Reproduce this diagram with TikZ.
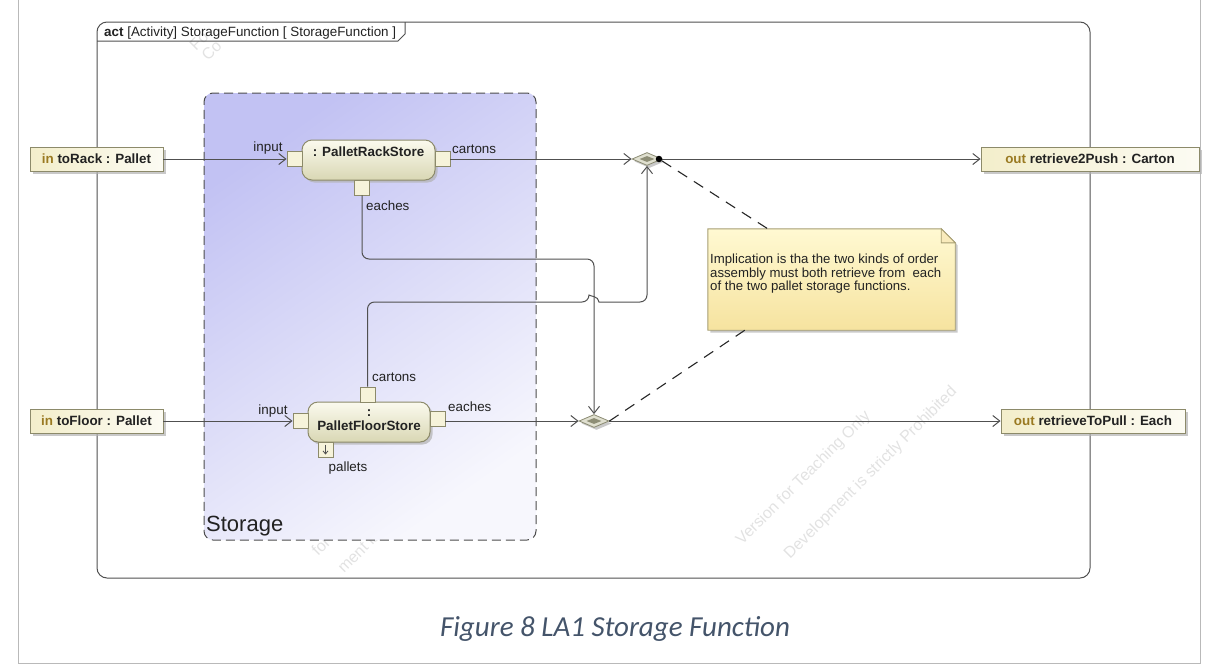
\documentclass[tikz,border=0pt]{standalone}
\usepackage{fontspec}
\setmainfont{Liberation Sans}
\newfontfamily\capfont{Carlito}
\usetikzlibrary{arrows.meta,shapes.geometric,shadows,calc}

\definecolor{linec}{HTML}{505050}
\definecolor{pinborder}{HTML}{8C8A6A}
\definecolor{keyw}{HTML}{9A7A22}
\definecolor{paramL}{HTML}{F3EECB}
\definecolor{paramR}{HTML}{FCFBF3}
\definecolor{actTop}{HTML}{FBFAEE}
\definecolor{actBot}{HTML}{D9D7B4}
\definecolor{pinFill}{HTML}{F6F3DA}
\definecolor{lav}{HTML}{C2C2F3}
\definecolor{lavLight}{HTML}{F7F7FD}
\definecolor{noteTop}{HTML}{FFF9D2}
\definecolor{noteBot}{HTML}{F6E39F}
\definecolor{noteBorder}{HTML}{A69E72}
\definecolor{dmBorder}{HTML}{8A8A72}
\definecolor{dmOut}{HTML}{E0E0D0}
\definecolor{dmIn}{HTML}{8E8E76}
\definecolor{capc}{HTML}{44546A}
\definecolor{wmark}{HTML}{E2E2E2}
\definecolor{txt}{HTML}{222222}

\tikzset{
  wire/.style={draw=linec, line width=1pt},
  flowline/.style={wire, -{Straight Barb[length=7pt,width=11pt,line width=1pt]}},
  notelink/.style={draw=black!85, line width=1.1pt, dash pattern=on 11pt off 8pt},
  castshadow/.style={drop shadow={shadow xshift=2.5pt, shadow yshift=-2.5pt, fill=black!30, opacity=0.7}},
  param/.style={castshadow, draw=pinborder, line width=0.9pt, left color=paramL, right color=paramR,
    minimum height=24pt, inner sep=0pt, text=txt, font=\fontsize{13.4}{15}\selectfont\bfseries},
  actionbox/.style={castshadow, draw=pinborder, line width=1pt, rounded corners=10pt,
    top color=actTop, bottom color=actBot, inner sep=0pt},
  pinbox/.style={draw=pinborder, line width=0.9pt, fill=pinFill, minimum size=15pt, inner sep=0pt},
  mergenode/.style={diamond, castshadow, draw=dmBorder, line width=0.8pt, fill=dmOut,
    minimum width=30pt, minimum height=13pt, inner sep=0pt},
  mergecore/.style={diamond, fill=dmIn, minimum width=15pt, minimum height=6pt, inner sep=0pt},
  lbl/.style={inner sep=0pt, text=txt, font=\fontsize{13.4}{15}\selectfont},
  title/.style={inner sep=0pt, text=txt, align=center, font=\fontsize{13.4}{14}\selectfont\bfseries},
  wm/.style={text=wmark, rotate=45, anchor=base west, inner sep=0pt, font=\fontsize{16}{18}\selectfont},
  storagebox/.style={draw=black!70, line width=1pt, dash pattern=on 9pt off 5pt, rounded corners=9pt,
    top color=lav, bottom color=lavLight, shading angle=35, inner sep=0pt},
}

\begin{document}
\begin{tikzpicture}[x=1pt,y=-1pt]
\useasboundingbox (0,0) rectangle (1218,665);

% page border around the figure
\draw[gray!55, line width=1pt] (18,0) -- (18,663) -- (1200,663) -- (1200,0);

% tool watermark, under the diagram content
\node[wm] (wmA1) at (742,546) {Version for Teaching Only};
\node[wm] (wmA2) at (790,560) {Development is strictly Prohibited};
\node[wm] (wmB1) at (318,557) {for Teaching Only};
\node[wm] (wmB2) at (344,574) {ment is strictly Prohibited};
\node[wm] (wmC1) at (196,52) {Fo};
\node[wm] (wmC2) at (208,62) {Co};

% activity frame and its header tab
\draw[linec, line width=1pt, rounded corners=10pt] (97,22) rectangle (1090,578);
\draw[linec, line width=1pt] (97,41) -- (398,41) -- (405,34) -- (405,22);
\node[lbl, anchor=base west] (hdr) at (104,36.5) {\textbf{act} [Activity] StorageFunction [ StorageFunction ]};

% Storage partition
\node[storagebox, minimum width=332pt, minimum height=447pt] (storage) at (370,316.5) {};
\node[inner sep=0pt, text=txt, anchor=base west, font=\fontsize{22}{24}\selectfont] (storageLbl) at (206,531) {Storage};

% activity parameter nodes
\node[param, minimum width=133pt] (toRack) at (96.5,159) {{\color{keyw}in} toRack : Pallet};
\node[param, minimum width=133pt] (toFloor) at (96.5,421) {{\color{keyw}in} toFloor : Pallet};
\node[param, minimum width=218pt] (r2p) at (1090,159) {{\color{keyw}out} retrieve2Push : Carton};
\node[param, minimum width=184pt] (rtp) at (1093,421) {{\color{keyw}out} retrieveToPull : Each};

% PalletRackStore action with its pins
\node[actionbox, minimum width=133pt, minimum height=40pt] (prs) at (368.5,160) {};
\node[title] (prsName) at (368.5,152) {: PalletRackStore};
\node[pinbox] (prsIn) at (294.5,159) {};
\node[pinbox] (prsCart) at (442.5,159) {};
\node[pinbox] (prsEach) at (362,187.5) {};
\node[lbl] (lPrsIn) at (268,148) {input};
\node[lbl, anchor=west] (lPrsCart) at (452,149) {cartons};
\node[lbl, anchor=west] (lPrsEach) at (366,206) {eaches};

% PalletFloorStore action with its pins
\node[actionbox, minimum width=122pt, minimum height=40pt] (pfs) at (369,422) {};
\node[title] (pfsName) at (369,420) {:\\PalletFloorStore};
\node[pinbox] (pfsIn) at (300.5,421) {};
\node[pinbox] (pfsCart) at (367.5,394.5) {};
\node[pinbox] (pfsEach) at (437.5,419) {};
\node[pinbox] (pfsPal) at (325.5,449.5) {};
\draw[wire, line width=0.8pt, -{Straight Barb[length=3pt,width=5pt,line width=0.8pt]}]
  ($(pfsPal.center)+(0,-5)$) -- ($(pfsPal.center)+(0,5)$);
\node[lbl] (lPfsIn) at (273,411) {input};
\node[lbl, anchor=west] (lPfsCart) at (372,377) {cartons};
\node[lbl, anchor=west] (lPfsEach) at (448,407) {eaches};
\node[lbl] (lPfsPal) at (348,468) {pallets};

% merge nodes
\node[mergenode] (dTop) at (647,159) {};
\node[mergecore] (dTopCore) at (dTop) {};
\node[mergenode] (dBot) at (594,421) {};
\node[mergecore] (dBotCore) at (dBot) {};

% object flows
\draw[flowline] (toRack.east) -- (prsIn.west);
\draw[flowline] (prsCart.east) -- (dTop.west);
\draw[flowline] (dTop.east) -- (r2p.west);
\draw[flowline] (toFloor.east) -- (pfsIn.west);
\draw[flowline] (pfsEach.east |- dBot.west) -- (dBot.west);
\draw[flowline] (dBot.east) -- (rtp.west);
\draw[flowline, rounded corners=7pt] (prsEach.south) -- (prsEach.south |- 0,259)
  -- (dBot.north |- 0,259) -- (dBot.north);
\draw[flowline] (pfsCart.north) [rounded corners=7pt] -- (pfsCart.north |- 0,302) -- (589,302)
  [sharp corners] .. controls (589,296) and (599,296) .. (599,302)
  [rounded corners=7pt] -- (dTop.south |- 0,302) -- (dTop.south);

% comment note
\node[minimum width=247pt, minimum height=101pt, inner sep=0pt] (note) at (831.5,279.5) {};
\path[castshadow, draw=noteBorder, line width=0.9pt, top color=noteTop, bottom color=noteBot]
  (note.north west) -- ($(note.north east)+(-14,0)$) -- ($(note.north east)+(0,14)$)
  -- (note.south east) -- (note.south west) -- cycle;
\draw[noteBorder, line width=0.9pt, fill=noteBot!70!white]
  ($(note.north east)+(-14,0)$) -- ($(note.north east)+(-14,14)$) -- ($(note.north east)+(0,14)$) -- cycle;
\node[anchor=north west, align=left, inner sep=0pt, text=txt, font=\fontsize{13.2}{13.6}\selectfont]
  (noteText) at (710,254) {Implication is tha the two kinds of order\\assembly must both retrieve from \ each\\of the two pallet storage functions.};

% anchors of the note
\node[circle, fill=black, inner sep=0pt, minimum size=6.5pt] (dot) at (659,159) {};
\coordinate (nTop) at ($(note.north west)+(60,0)$);
\coordinate (nBot) at ($(note.south west)+(37,0)$);
\draw[notelink] (dot) -- (nTop);
\draw[notelink] (dBot.east) -- (nBot);

% caption
\node[inner sep=0pt, anchor=base, text=capc, font=\capfont\itshape\fontsize{29}{34}\selectfont]
  (cap) at (615,636) {Figure 8 LA1 Storage Function};
\end{tikzpicture}
\end{document}
